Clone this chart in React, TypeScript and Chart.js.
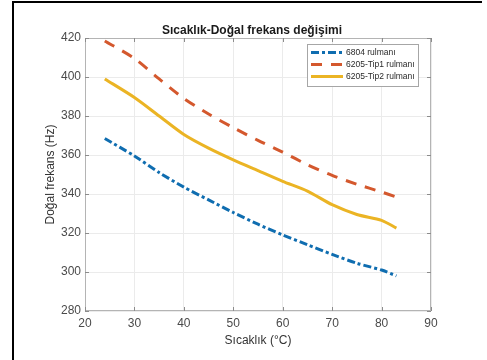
import React, { useEffect, useRef } from "react";
import { Chart, registerables } from "chart.js";

Chart.register(...registerables);

// ---- Data ----
const temperatures = [24, 30, 35, 40, 45, 50, 55, 60, 65, 70, 75, 80, 83];
const freq6804 = [368.5, 359.5, 351, 343.5, 337, 330.5, 324.5, 319, 314, 309, 304.5, 301, 298];
const freq6205Tip1 = [418.5, 409.5, 399, 389, 381, 374, 367.5, 361.5, 355, 349.5, 345, 341, 338.5];
const freq6205Tip2 = [399, 389.5, 380, 370.5, 363.5, 357.5, 352, 346.5, 341.5, 334.5, 329.5, 326.5, 322.5];
const seriesLabels = ["6804 rulmanı", "6205-Tip1 rulmanı", "6205-Tip2 rulmanı"];
const chartTitle = "Sıcaklık-Doğal frekans değişimi";
const xAxisTitle = "Sıcaklık (°C)";
const yAxisTitle = "Doğal frekans (Hz)";
const xRange = [20, 90];
const yRange = [280, 420];

const FONT = "'Liberation Sans', Arial, Helvetica, sans-serif";
const TICK_COLOR = "#4a4a4a";
const AXIS_COLOR = "#b4b4b4";

const toPoints = (ys: number[]) => temperatures.map((x, i) => ({ x, y: ys[i] }));

const boxPlugin = {
  id: "matlabBox",
  beforeDatasetsDraw(chart: any) {
    const { ctx, chartArea: a, scales } = chart;
    ctx.save();
    ctx.strokeStyle = AXIS_COLOR;
    ctx.lineWidth = 1;
    ctx.strokeRect(Math.round(a.left) + 0.5, Math.round(a.top) + 0.5, Math.round(a.right - a.left) - 1, Math.round(a.bottom - a.top) - 1);
    ctx.strokeStyle = "#8c8c8c";
    const tl = 4;
    scales.x.ticks.forEach((t: any) => {
      const px = Math.round(scales.x.getPixelForValue(t.value)) + 0.5;
      ctx.beginPath();
      ctx.moveTo(px, a.bottom);
      ctx.lineTo(px, a.bottom - tl);
      ctx.moveTo(px, a.top);
      ctx.lineTo(px, a.top + tl);
      ctx.stroke();
    });
    scales.y.ticks.forEach((t: any) => {
      const py = Math.round(scales.y.getPixelForValue(t.value)) + 0.5;
      ctx.beginPath();
      ctx.moveTo(a.left, py);
      ctx.lineTo(a.left + tl, py);
      ctx.moveTo(a.right, py);
      ctx.lineTo(a.right - tl, py);
      ctx.stroke();
    });
    ctx.restore();
  },
};

const overlayPlugin = {
  id: "matlabOverlay",
  afterDraw(chart: any) {
    const { ctx, chartArea: a } = chart;
    ctx.save();
    // title
    ctx.font = `bold 12px ${FONT}`;
    ctx.fillStyle = "#1a1a1a";
    ctx.textAlign = "center";
    ctx.textBaseline = "middle";
    ctx.fillText(chartTitle, (a.left + a.right) / 2 - 6, a.top - 7);
    // legend
    const w = 111;
    const h = 42;
    const bx = a.right - 13 - w;
    const by = a.top + 6;
    ctx.fillStyle = "#ffffff";
    ctx.fillRect(bx, by, w, h);
    ctx.strokeStyle = "#a6a6a6";
    ctx.lineWidth = 1;
    ctx.strokeRect(Math.round(bx) + 0.5, Math.round(by) + 0.5, w, h);
    ctx.font = `8.5px ${FONT}`;
    ctx.textAlign = "left";
    chart.data.datasets.forEach((ds: any, i: number) => {
      const y = by + 8.5 + i * 12;
      ctx.strokeStyle = ds.borderColor;
      ctx.lineWidth = 3;
      ctx.setLineDash(ds.borderDash || []);
      ctx.beginPath();
      ctx.moveTo(bx + 4, y);
      ctx.lineTo(bx + 36, y);
      ctx.stroke();
      ctx.setLineDash([]);
      ctx.fillStyle = "#2a2a2a";
      ctx.fillText(ds.label, bx + 39, y + 0.5);
    });
    ctx.restore();
  },
};

export default function App() {
  const canvasRef = useRef<HTMLCanvasElement | null>(null);

  useEffect(() => {
    if (!canvasRef.current) return;
    const chart = new Chart(canvasRef.current, {
      type: "line",
      data: {
        datasets: [
          {
            label: seriesLabels[0],
            data: toPoints(freq6804),
            borderColor: "#0f6db0",
            borderWidth: 3,
            borderDash: [8, 3, 3, 3],
            pointRadius: 0,
            tension: 0.25,
            fill: false,
          },
          {
            label: seriesLabels[1],
            data: toPoints(freq6205Tip1),
            borderColor: "#d4582d",
            borderWidth: 3,
            borderDash: [11, 9],
            pointRadius: 0,
            tension: 0.25,
            fill: false,
          },
          {
            label: seriesLabels[2],
            data: toPoints(freq6205Tip2),
            borderColor: "#ebb424",
            borderWidth: 3,
            pointRadius: 0,
            tension: 0.25,
            fill: false,
          },
        ],
      },
      options: {
        responsive: false,
        animation: false,
        devicePixelRatio: 1,
        layout: { padding: { left: 43, right: 56, top: 38, bottom: 12 } },
        plugins: {
          legend: { display: false },
          title: { display: false },
          tooltip: { enabled: false },
        },
        scales: {
          x: {
            type: "linear",
            min: xRange[0],
            max: xRange[1],
            ticks: { stepSize: 10, color: TICK_COLOR, font: { family: FONT, size: 12 }, padding: 5, maxRotation: 0 },
            grid: { color: "#ebebeb", drawTicks: false },
            border: { display: false },
            title: { display: true, text: xAxisTitle, color: "#333", font: { family: FONT, size: 12 }, padding: 0 },
            afterFit: (scale: any) => {
              scale.height = 37;
            },
          },
          y: {
            type: "linear",
            min: yRange[0],
            max: yRange[1],
            ticks: { stepSize: 20, color: TICK_COLOR, font: { family: FONT, size: 12 }, padding: 4 },
            grid: { color: "#ebebeb", drawTicks: false },
            border: { display: false },
            title: { display: true, text: yAxisTitle, color: "#333", font: { family: FONT, size: 12 }, padding: 0 },
            afterFit: (scale: any) => {
              scale.width = 42;
            },
          },
        },
      },
      plugins: [boxPlugin, overlayPlugin],
    });
    return () => chart.destroy();
  }, []);

  return (
    <div style={{ position: "fixed", left: 0, top: 0, width: 487, height: 360, background: "#fff", overflow: "hidden" }}>
      <div
        style={{
          position: "absolute",
          left: 12,
          top: 1,
          width: 468,
          height: 400,
          borderLeft: "2px solid #000",
          borderTop: "2px solid #000",
        }}
      />
      <canvas ref={canvasRef} width={487} height={360} style={{ position: "absolute", left: 0, top: 0, width: 487, height: 360 }} />
    </div>
  );
}
